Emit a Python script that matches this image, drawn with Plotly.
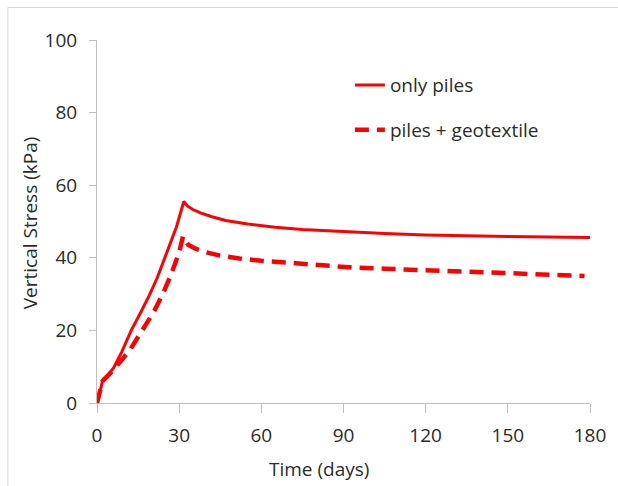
import plotly.graph_objects as go

# --- data ---
t_piles = [0, 1, 2.2, 4, 6, 9, 12.5, 16, 19, 22, 26, 29, 31.7, 33, 35, 38, 42, 47, 55,
           65, 75, 90, 105, 120, 135, 150, 165, 180]
s_piles = [0, 3, 6.5, 7.8, 9.6, 14, 20, 25, 29.5, 34.5, 42.2, 48.5, 55.5, 54.3, 53.3, 52.3,
           51.3, 50.3, 49.3, 48.4, 47.8, 47.2, 46.7, 46.3, 46.0, 45.9, 45.7, 45.6]

t_geo = [0, 1, 2, 4, 6, 9, 12, 15, 18, 21, 24, 27, 30, 31.4, 33.3, 36, 40, 45, 52, 60,
         70, 80, 92, 105, 120, 135, 150, 165, 178]
s_geo = [0, 3, 6, 7.5, 9.4, 11.8, 14.6, 18, 21.8, 25.5, 30, 35.3, 41.5, 45.9, 43.6, 42.5,
         41.5, 40.6, 39.8, 39.2, 38.6, 38.1, 37.4, 37.0, 36.6, 36.1, 35.7, 35.3, 35.0]

x_ticks = [0, 30, 60, 90, 120, 150, 180]
y_ticks = [0, 20, 40, 60, 80, 100]
names = ["only piles", "piles + geotextile"]

FONT = "Open Sans"
TXT = "#2b2b2b"
AX = "#bfbfbf"
RED = "#ff0000"
FS = 19

fig = go.Figure()
fig.add_trace(go.Scatter(x=t_piles, y=s_piles, mode="lines", name=names[0],
                         legendgroup="a",
                         line=dict(color=RED, width=3)))
fig.add_trace(go.Scatter(x=t_geo, y=s_geo, mode="lines", name=names[1],
                         legendgroup="b",
                         line=dict(color=RED, width=4.5, dash="14px,8px")))

axis_common = dict(showgrid=False, zeroline=False, showline=True, linecolor=AX,
                   linewidth=1, ticks="outside", tickcolor=AX, tickwidth=1,
                   tickfont=dict(family=FONT, size=FS, color=TXT))

fig.update_xaxes(range=[0, 180], tickvals=x_ticks, ticklen=9, ticklabelstandoff=6,
                 **axis_common)
fig.update_yaxes(range=[0, 100], tickvals=y_ticks, ticklen=7, ticklabelstandoff=8,
                 **axis_common)

fig.update_layout(
    width=618, height=486,
    margin=dict(l=97, r=25, t=40, b=83),
    paper_bgcolor="white", plot_bgcolor="white",
    font=dict(family=FONT, color=TXT),
    legend=dict(x=0.513, y=0.928, xanchor="left", yanchor="top",
                font=dict(family=FONT, size=FS, color=TXT),
                traceorder="grouped", tracegroupgap=17,
                bgcolor="rgba(0,0,0,0)"),
    annotations=[
        dict(text="Vertical Stress (kPa)", xref="paper", yref="paper",
             x=-0.1353, y=0.496, textangle=-90, showarrow=False,
             xanchor="center", yanchor="middle",
             font=dict(family=FONT, size=FS, color=TXT)),
        dict(text="Time (days)", xref="paper", yref="paper",
             x=0.4505, y=-0.1818, showarrow=False,
             xanchor="center", yanchor="middle",
             font=dict(family=FONT, size=FS, color=TXT)),
    ],
    shapes=[dict(type="rect", xref="paper", yref="paper",
                 x0=-0.1808, y0=-0.4, x1=1.2, y1=1.0895,
                 line=dict(color="#d9d9d9", width=1), fillcolor="rgba(0,0,0,0)",
                 layer="below")],
)

fig.write_html("out.html")
